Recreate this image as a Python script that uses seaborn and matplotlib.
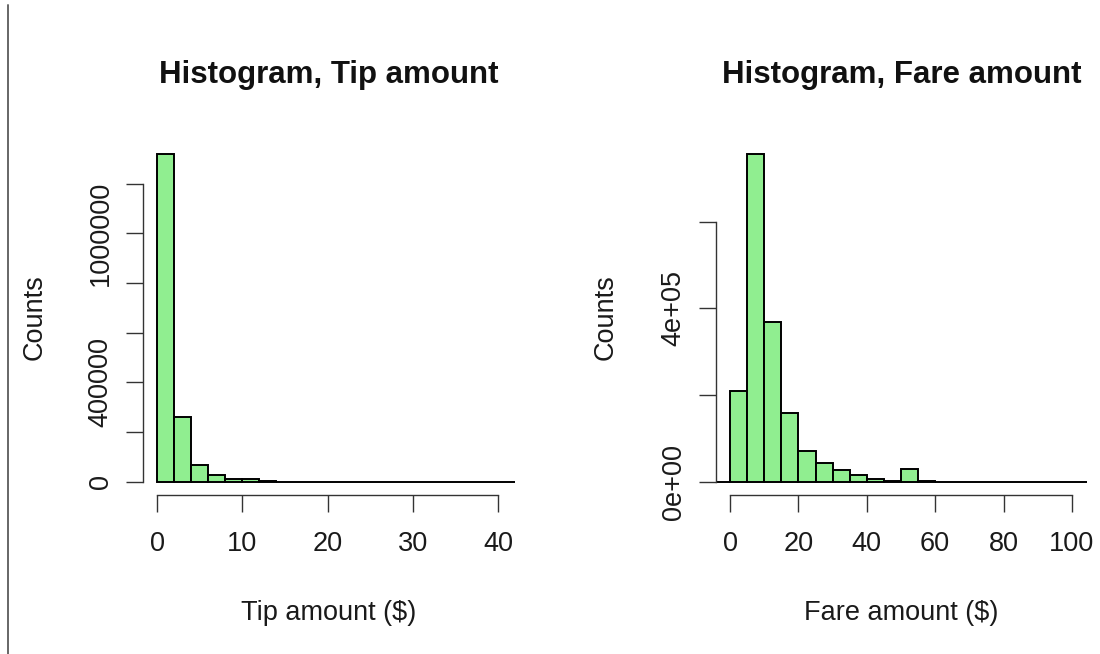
import numpy as np
import pandas as pd
import matplotlib
matplotlib.use("Agg")
import matplotlib.pyplot as plt
from matplotlib.lines import Line2D
import seaborn as sns

# Binned trip data: bin edges and counts per bin
tip_edges = list(range(0, 44, 2))
tip_counts = [1318000, 262000, 67000, 27000, 11000, 10000, 1500, 800, 500, 300,
              200, 150, 100, 100, 50, 50, 30, 20, 10, 10, 10]

fare_edges = list(range(-5, 110, 5))
fare_counts = [0, 210000, 756000, 369000, 158000, 71000, 44000, 27000, 15000, 6000,
               1500, 29000, 500, 300, 200, 100, 100, 50, 50, 30, 20, 10]

tip_xticks = [0, 10, 20, 30, 40]
tip_yticks = [0, 200000, 400000, 600000, 800000, 1000000, 1200000]
tip_yticklabels = ["0", "", "400000", "", "", "1000000", ""]

fare_xticks = [0, 20, 40, 60, 80, 100]
fare_yticks = [0, 200000, 400000, 600000]
fare_yticklabels = ["0e+00", "", "4e+05", ""]

sns.set_theme(style="white")
plt.rcParams["font.family"] = ["Liberation Sans", "DejaVu Sans"]

W, H = 1100, 654
fig = plt.figure(figsize=(W / 100, H / 100), dpi=100)

FS = 19.5
TFS = 22.5
BAR = "#90EE90"


def px_axes(x0, x1, y0, y1):
    return fig.add_axes([x0 / W, 1 - y1 / H, (x1 - x0) / W, (y1 - y0) / H])


def draw_hist(ax, edges, counts, xlim, xticks, yticks, yticklabels):
    df = pd.DataFrame({"left": edges[:-1], "count": counts})
    sns.histplot(data=df, x="left", weights="count", bins=edges, ax=ax,
                 color=BAR, edgecolor="black", linewidth=1.4, alpha=1.0)
    ymax = max(counts)
    ax.set_xlim(*xlim)
    ax.set_ylim(-0.04 * ymax, 1.04 * ymax)
    for s in ("top", "right"):
        ax.spines[s].set_visible(False)
    for s in ("left", "bottom"):
        ax.spines[s].set_color("#333333")
        ax.spines[s].set_linewidth(1.0)
    ax.spines["bottom"].set_bounds(xticks[0], xticks[-1])
    ax.spines["left"].set_bounds(yticks[0], yticks[-1])
    ax.set_xticks(xticks)
    ax.set_xticklabels([str(t) for t in xticks])
    ax.set_yticks(yticks)
    ax.set_yticklabels(yticklabels, rotation=90, va="center")
    ax.tick_params(axis="both", direction="out", length=12, width=1.0,
                   color="#333333", labelsize=FS, labelcolor="#1a1a1a",
                   bottom=True, left=True)
    ax.tick_params(axis="x", pad=14)
    ax.tick_params(axis="y", pad=9)
    ax.set_xlabel("")
    ax.set_ylabel("")
    ax.grid(False)
    ax.patch.set_alpha(0)


ax1 = px_axes(142.7, 515.3, 141.2, 494.8)
draw_hist(ax1, tip_edges, tip_counts, (-1.68, 42.0), tip_xticks, tip_yticks, tip_yticklabels)

ax2 = px_axes(715.7, 1087.3, 141.2, 494.8)
draw_hist(ax2, fare_edges, fare_counts, (-4.2, 104.5), fare_xticks, fare_yticks, fare_yticklabels)

# Titles and axis labels
for cx, title, xlab, ylx in [(328.5, "Histogram, Tip amount", "Tip amount ($)", 41.7),
                             (901.5, "Histogram, Fare amount", "Fare amount ($)", 612.7)]:
    fig.text(cx / W, 1 - 83.3 / H, title, ha="center", va="baseline",
             fontsize=TFS, fontweight="bold", color="#111111")
    fig.text(cx / W, 1 - 619.5 / H, xlab, ha="center", va="baseline",
             fontsize=FS, color="#1a1a1a")
    fig.text(ylx / W, 1 - 317 / H, "Counts", ha="center", va="baseline",
             rotation=90, rotation_mode="anchor", fontsize=FS, color="#1a1a1a")

# Left border line
fig.add_artist(Line2D([8 / W, 8 / W], [0, 1 - 5 / H], transform=fig.transFigure,
                      color="#666666", linewidth=1.4))

fig.savefig("out.png", dpi=100)
